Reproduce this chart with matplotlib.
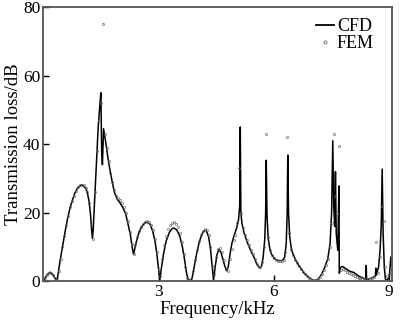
import numpy as np
import matplotlib
matplotlib.use('Agg')
import matplotlib.pyplot as plt
from matplotlib.lines import Line2D

plt.rcParams['font.family'] = ['Liberation Serif', 'DejaVu Serif']

# CFD curve (kHz, dB)
cfd_freq = [0.00, 0.05, 0.10, 0.18, 0.25, 0.31, 0.36, 0.44, 0.50, 0.57, 0.63, 0.70, 0.77, 0.83, 0.90, 0.97,
            1.03, 1.09, 1.14, 1.19, 1.23, 1.26, 1.28, 1.30, 1.33, 1.38, 1.43, 1.47, 1.50, 1.52, 1.54, 1.57,
            1.62, 1.67, 1.72, 1.79, 1.85, 1.92, 2.00, 2.07, 2.14, 2.20, 2.27, 2.32, 2.35, 2.40, 2.47, 2.55,
            2.63, 2.70, 2.78, 2.85, 2.91, 2.96, 3.00, 3.03, 3.07, 3.13, 3.20, 3.28, 3.35, 3.40, 3.47, 3.55,
            3.62, 3.68, 3.73, 3.77, 3.82, 3.87, 3.92, 3.99, 4.06, 4.13, 4.20, 4.24, 4.30, 4.35, 4.39, 4.43,
            4.47, 4.52, 4.57, 4.62, 4.67, 4.72, 4.77, 4.81, 4.86, 4.91, 4.97, 5.03, 5.08, 5.11, 5.125, 5.14,
            5.17, 5.22, 5.30, 5.40, 5.48, 5.56, 5.63, 5.68, 5.72, 5.76, 5.785, 5.80, 5.82, 5.85, 5.90, 5.95,
            6.02, 6.12, 6.22, 6.28, 6.32, 6.345, 6.36, 6.38, 6.41, 6.46, 6.55, 6.65, 6.78, 6.92, 7.05, 7.15,
            7.24, 7.32, 7.40, 7.46, 7.50, 7.53, 7.555, 7.58, 7.60, 7.62, 7.66, 7.69, 7.70, 7.73, 7.78, 7.85,
            7.95, 8.08, 8.20, 8.30, 8.39, 8.40, 8.41, 8.52, 8.64, 8.65, 8.66, 8.72, 8.76, 8.79, 8.815, 8.84,
            8.87, 8.90, 8.95, 9.00, 9.04]
cfd_tl = [0, 0.9, 1.9, 2.6, 1.9, 0.8, 0.1, 6, 10, 14.5, 18, 21.5, 24, 25.9, 27.3, 28,
          28, 27.3, 26.2, 23.5, 19.5, 15, 12.5, 15, 22, 33, 45, 51, 55, 38, 34, 44.5,
          41, 37, 33.5, 29.3, 26, 24, 22.8, 21.5, 19.8, 17, 13.3, 9.5, 7.8, 10.5, 13.5, 15.8,
          16.9, 17.2, 16.6, 14.5, 11.5, 7.5, 3.5, 0.2, 3.5, 8, 11.8, 14.2, 15.3, 15.5, 15.0, 13.2,
          10, 6, 2.2, 0.5, 0.2, 0.8, 3.8, 8, 11.5, 13.8, 14.8, 14.8, 13, 9.5, 5, 0.3,
          4, 7.8, 9.2, 8.5, 6.5, 4.5, 3.0, 4, 8, 11.2, 13.5, 15.5, 18, 22, 45, 20,
          16.8, 14.2, 11.5, 8.8, 7, 4.8, 3.8, 4.5, 7, 12, 20, 35.3, 19, 12.5, 9, 7.5,
          6.5, 6, 6, 7, 11, 20, 36.8, 20, 13, 9, 6.5, 4.5, 2.5, 1, 0.1, 0.6,
          2, 4, 6.5, 11, 20, 41, 22, 16, 32, 14, 9, 27.8, 2.3, 4, 4.3, 3.8,
          3.0, 2.5, 1.5, 1.0, 0.5, 4.6, 0.5, 0.8, 1.5, 3.8, 1.8, 4, 9, 16, 32.7, 14,
          4, 0.5, 0.3, 1.2, 7]

# FEM points (kHz, dB)
fem_freq = [0.05, 0.10, 0.15, 0.20, 0.25, 0.30, 0.35, 0.40, 0.45, 0.50, 0.55, 0.60, 0.65, 0.70, 0.75, 0.80, 0.85, 0.90, 0.95, 1.00,
            1.05, 1.10, 1.15, 1.20, 1.25, 1.30, 1.35, 1.40, 1.45, 1.50, 1.55, 1.60, 1.65, 1.70, 1.75, 1.80, 1.85, 1.90, 1.95, 2.00,
            2.05, 2.10, 2.15, 2.20, 2.25, 2.30, 2.35, 2.40, 2.45, 2.50, 2.55, 2.60, 2.65, 2.70, 2.75, 2.80, 2.85, 2.90, 2.95, 3.00,
            3.05, 3.10, 3.15, 3.20, 3.25, 3.30, 3.35, 3.40, 3.45, 3.50, 3.55, 3.60, 3.65, 3.70, 3.75, 3.80, 3.85, 3.90, 3.95, 4.00,
            4.05, 4.10, 4.15, 4.20, 4.25, 4.30, 4.35, 4.40, 4.45, 4.50, 4.55, 4.60, 4.65, 4.70, 4.75, 4.80, 4.85, 4.90, 4.95, 5.00,
            5.05, 5.10, 5.15, 5.20, 5.25, 5.30, 5.35, 5.40, 5.45, 5.50, 5.55, 5.60, 5.65, 5.70, 5.75, 5.80, 5.85, 5.90, 5.95, 6.00,
            6.05, 6.10, 6.15, 6.20, 6.25, 6.30, 6.35, 6.40, 6.45, 6.50, 6.55, 6.60, 6.65, 6.70, 6.75, 6.80, 6.85, 6.90, 6.95, 7.00,
            7.05, 7.10, 7.15, 7.20, 7.25, 7.30, 7.35, 7.40, 7.45, 7.50, 7.55, 7.60, 7.65, 7.70, 7.75, 7.80, 7.85, 7.90, 7.95, 8.00,
            8.05, 8.10, 8.15, 8.20, 8.25, 8.30, 8.35, 8.40, 8.45, 8.50, 8.55, 8.60, 8.65, 8.70, 8.75, 8.80, 8.85, 8.90, 8.95, 9.00]
fem_tl = [0.9, 1.9, 2.5, 2.5, 1.9, 1.0, 0.2, 3, 6.5, 10, 13.2, 16.3, 19, 21.5, 23.5, 25, 26.4, 27.4, 28, 28.2,
          28, 27.2, 26, 22.8, 16.5, 12.2, 26, 38, 47, 52, 75, 43, 39, 35, 31.5, 28.8, 26.5, 25, 24.2, 23.8,
          22.8, 21.5, 19.8, 17.5, 14.3, 10.8, 8, 10.6, 12.8, 14.6, 15.9, 16.8, 17.3, 17.5, 17.2, 16.3, 14.8, 12.3, 8.5, 3.5,
          1.5, 6.5, 10.5, 13.3, 15.3, 16.5, 17.1, 17.2, 16.8, 15.8, 14, 11.5, 8, 4, 0.8, 0.3, 0.6, 3, 6.3, 9.2,
          11.8, 13.6, 14.7, 15.2, 15, 13.5, 10, 4.5, 2, 7, 9.5, 9.8, 8.5, 6.2, 3.5, 3, 6.5, 9.5, 12, 13.5,
          17, 33, 20, 15.5, 13.5, 12, 10.5, 9.2, 8, 6.5, 5, 4.2, 4.0, 5.5, 10, 43, 13, 9.2, 7.5, 6.7,
          6.3, 6.0, 5.9, 6.0, 6.3, 8.5, 42, 14, 9.5, 7.5, 6.2, 5.2, 4.3, 3.5, 2.7, 2, 1.4, 0.9, 0.5, 0.3,
          0.2, 0.3, 0.6, 1.2, 2, 3.2, 4.6, 6.5, 10, 17, 43, 25, 20, 39.6, 3.2, 3.5, 3.2, 2.8, 2.5, 2.1,
          1.8, 1.5, 1.2, 1.0, 0.8, 0.6, 0.5, 0.5, 0.5, 0.6, 0.8, 1.2, 11.4, 2.5, 7, 22, 17.7, 4, 1.5, 2]

fig = plt.figure(figsize=(4.0, 3.25), dpi=100)
ax = fig.add_axes([0.108, 0.135, 0.871, 0.843])

ax.plot(cfd_freq, cfd_tl, color='black', lw=1.1, zorder=2)
ax.plot(fem_freq, fem_tl, linestyle='none', marker='o', ms=1.5, mfc='none',
        mec='0.4', mew=0.5, zorder=3)

ax.set_xlim(0, 9.06)
ax.set_ylim(0, 80)
ax.set_xticks([3, 6, 9])
ax.set_yticks([0, 20, 40, 60, 80])
ax.tick_params(direction='in', length=4, width=1, labelsize=12.5, pad=2, colors='black')
for s in ax.spines.values():
    s.set_color('#555555')
    s.set_linewidth(1.3)

ax.set_xlabel('Frequency/kHz', fontsize=13.5, labelpad=1)
ax.set_ylabel('Transmission loss/dB', fontsize=13.5, labelpad=1)

handles = [Line2D([], [], color='black', lw=1.3),
           Line2D([], [], linestyle='none', marker='o', ms=2.2, mfc='none', mec='0.4', mew=0.6)]
ax.legend(handles, ['CFD', 'FEM'], loc='upper right', frameon=False, fontsize=13,
          handlelength=1.0, handletextpad=0.15, labelspacing=0.0,
          borderaxespad=0.2, bbox_to_anchor=(0.98, 1.0))

fig.savefig('out.png', dpi=100)
